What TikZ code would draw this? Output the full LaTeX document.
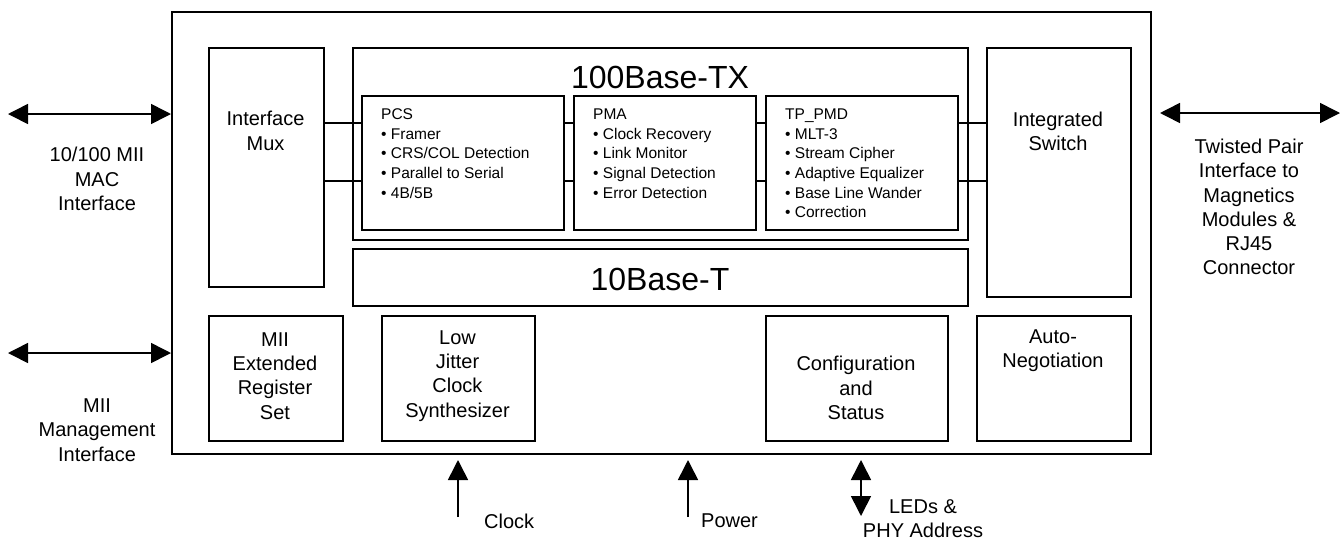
\documentclass[tikz,border=0pt]{standalone}
\usepackage{fontspec}
\setmainfont{Liberation Sans}
\usetikzlibrary{arrows.meta}
\begin{document}
\begin{tikzpicture}[x=1pt,y=-1pt,
  box/.style={draw=black,line width=1.6pt,inner sep=0pt},
  lbl/.style={inner sep=0pt,align=center,font=\fontsize{20}{24.3}\selectfont},
  small/.style={inner sep=0pt,align=left,anchor=north west,font=\fontsize{15.5}{19.7}\selectfont},
  big/.style={inner sep=0pt,anchor=base,font=\fontsize{32}{38}\selectfont},
  conn/.style={line width=1.6pt},
  arr/.style={line width=1.6pt,-{Triangle[length=20pt,width=20pt]}},
  darr/.style={line width=1.6pt,{Triangle[length=20pt,width=20pt]}-{Triangle[length=20pt,width=20pt]}}
]
\useasboundingbox[fill=white] (0,0) rectangle (1341,542);
\def\bx#1#2#3#4#5{\node[box,minimum width=#4-#2,minimum height=#5-#3,anchor=north west] (#1) at (#2,#3) {};}
% boxes
\bx{outer}{171}{11}{1150}{453}
\bx{mux}{208}{47}{323}{286}
\bx{tx}{352}{47}{967}{239}
\bx{pcs}{361}{95}{563}{229}
\bx{pma}{573}{95}{755}{229}
\bx{pmd}{765}{95}{957}{229}
\bx{tenbt}{352}{248}{967}{305}
\bx{sw}{986}{47}{1130}{296}
\bx{mii}{208}{315}{342}{440}
\bx{clk}{381}{315}{534}{440}
\bx{cfg}{765}{315}{947}{440}
\bx{an}{976}{315}{1130}{440}
% texts in boxes
\node[lbl] (muxt) at (265.5,131) {Interface\\Mux};
\node[big] (txt) at (660,88) {100Base-TX};
\node[big] (tent) at (660,290) {10Base-T};
\node[lbl] (swt) at (1058,131) {Integrated\\Switch};
\node[lbl] (miit) at (275,376) {MII\\Extended\\Register\\Set};
\node[lbl] (clkt) at (457.5,376) {Low\\Jitter\\Clock\\Synthesizer};
\node[lbl] (cfgt) at (856,388) {Configuration\\and\\Status};
\node[lbl] (ant) at (1053,351) {Auto-\\Negotiation};
\node[small] (pcst) at (381,108.5) {PCS\\• Framer\\• CRS/COL Detection\\• Parallel to Serial\\• 4B/5B};
\node[small] (pmat) at (593,108.5) {PMA\\• Clock Recovery\\• Link Monitor\\• Signal Detection\\• Error Detection};
\node[small] (pmdt) at (785,108.5) {TP\_PMD\\• MLT-3\\• Stream Cipher\\• Adaptive Equalizer\\• Base Line Wander\\• Correction};
% internal connectors
\coordinate (r1) at (0,123);
\coordinate (r2) at (0,181);
\foreach \r in {r1,r2}{
  \draw[conn] (\r -| mux.east) -- (\r -| pcs.west);
  \draw[conn] (\r -| pcs.east) -- (\r -| pma.west);
  \draw[conn] (\r -| pma.east) -- (\r -| pmd.west);
  \draw[conn] (\r -| pmd.east) -- (\r -| sw.west);
}
% external arrows
\coordinate (macend) at (8,114);
\draw[darr] (macend) -- (macend -| outer.west);
\node[lbl] (mact) at (97,179) {10/100 MII\\MAC\\Interface};
\coordinate (mgmtend) at (8,353);
\draw[darr] (mgmtend) -- (mgmtend -| outer.west);
\node[lbl] (mgmtt) at (97,430) {MII\\Management\\Interface};
\coordinate (tpA) at (1160,113);
\coordinate (tpB) at (1340,113);
\draw[darr] (tpA) -- (tpB);
\node[lbl] (tpt) at (1249,207) {Twisted Pair\\Interface to\\Magnetics\\Modules \&\\RJ45\\Connector};
\coordinate (clkin) at (458,517);
\coordinate (clktip) at (458,460);
\draw[arr] (clkin) -- (clktip);
\node[lbl,anchor=west] (clockt) at (484,521) {Clock};
\coordinate (pwrin) at (688,517);
\coordinate (pwrtip) at (688,460);
\draw[arr] (pwrin) -- (pwrtip);
\node[lbl,anchor=west] (powert) at (701,521) {Power};
\coordinate (ledA) at (861,460);
\coordinate (ledB) at (861,516);
\draw[darr] (ledA) -- (ledB);
\node[lbl] (ledt) at (923,519) {LEDs \&\\PHY Address};
\end{tikzpicture}
\end{document}
